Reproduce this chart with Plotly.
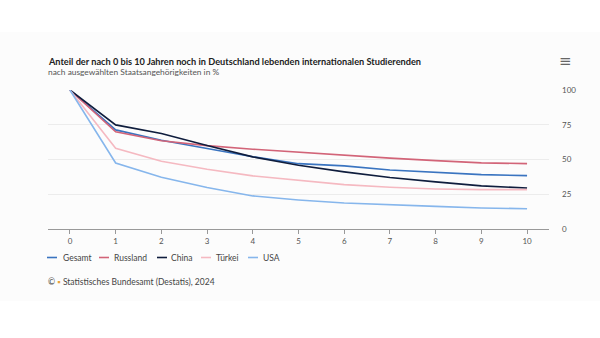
import plotly.graph_objects as go

jahre = list(range(0, 11))
gesamt = [100, 71.3, 63.9, 58.1, 52.0, 47.0, 45.4, 42.5, 40.6, 39.1, 38.4]
russland = [100, 69.9, 63.5, 60.0, 57.4, 55.2, 53.1, 51.0, 49.2, 47.6, 47.0]
china = [100, 74.9, 68.7, 60.0, 51.9, 45.9, 41.1, 37.0, 33.9, 31.0, 29.5]
tuerkei = [100, 58.1, 48.8, 43.0, 38.2, 34.8, 31.9, 30.0, 28.8, 28.3, 28.3]
usa = [100, 47.5, 37.2, 29.8, 23.8, 20.9, 18.7, 17.3, 16.3, 15.1, 14.6]

y_ticks = [0, 25, 50, 75, 100]

serien = [
    ("Gesamt", gesamt, "#3a74c0"),
    ("Russland", russland, "#d26478"),
    ("China", china, "#0f1d3d"),
    ("Türkei", tuerkei, "#f5b9c1"),
    ("USA", usa, "#86b6ec"),
]

FONT = "Lato"
W, H = 600, 338
L, R, T, B = 48, 51, 90, 109
PW, PH = W - L - R, H - T - B


def px_x(px):
    return (px - L) / PW


def px_y(py):
    return (H - B - py) / PH


fig = go.Figure()
for name, werte, farbe in serien:
    fig.add_trace(go.Scatter(
        x=jahre, y=werte, name=name, mode="lines",
        line=dict(color=farbe, width=1.6),
    ))

fig.update_layout(
    width=W, height=H,
    margin=dict(l=L, r=R, t=T, b=B),
    paper_bgcolor="white",
    plot_bgcolor="rgba(0,0,0,0)",
    font=dict(family=FONT, size=9, color="#555555"),
    showlegend=False,
    xaxis=dict(
        range=[-0.48, 10.48], tickvals=jahre, showgrid=False,
        showline=True, linecolor="#999999", linewidth=1,
        ticks="outside", ticklen=4, tickcolor="#999999",
        tickfont=dict(size=8, color="#555555"), zeroline=False,
    ),
    yaxis=dict(
        range=[0, 100], tickvals=y_ticks, side="right",
        showgrid=True, gridcolor="#ececec", gridwidth=1,
        zeroline=False, showline=False, ticks="",
        tickfont=dict(size=8, color="#555555"), ticklabelstandoff=12,
    ),
)

# leicht abgesetzter Hintergrundstreifen
fig.add_shape(type="rect", xref="paper", yref="paper", x0=-1, x1=2,
              y0=px_y(301), y1=px_y(32),
              fillcolor="#fcfcfc", line=dict(width=0), layer="below")

fig.add_annotation(
    text="<b>Anteil der nach 0 bis 10 Jahren noch in Deutschland lebenden internationalen Studierenden</b>",
    xref="paper", yref="paper", x=px_x(46), y=px_y(61),
    xanchor="left", yanchor="middle", showarrow=False,
    font=dict(family=FONT, size=9.2, color="#222222"),
)
fig.add_annotation(
    text="nach ausgewählten Staatsangehörigkeiten in %",
    xref="paper", yref="paper", x=px_x(46), y=px_y(72.5),
    xanchor="left", yanchor="middle", showarrow=False,
    font=dict(family=FONT, size=8.4, color="#555555"),
)

# Legende
legende_x = [(47, 61), (99, 112), (157, 169), (201, 214), (248, 261)]
for (name, _, farbe), (lx, tx) in zip(serien, legende_x):
    fig.add_shape(type="line", xref="paper", yref="paper",
                  x0=px_x(lx), x1=px_x(lx + 10), y0=px_y(257.5), y1=px_y(257.5),
                  line=dict(color=farbe, width=1.6))
    fig.add_annotation(
        text=name, xref="paper", yref="paper", x=px_x(tx), y=px_y(257.5),
        xanchor="left", yanchor="middle", showarrow=False,
        font=dict(family=FONT, size=8.5, color="#444444"),
    )

fig.add_annotation(
    text="© <span style='color:#e8a33a'>▪</span> Statistisches Bundesamt (Destatis), 2024",
    xref="paper", yref="paper", x=px_x(46), y=px_y(282),
    xanchor="left", yanchor="middle", showarrow=False,
    font=dict(family=FONT, size=8.5, color="#444444"),
)
fig.add_annotation(
    text="≡", xref="paper", yref="paper", x=px_x(565), y=px_y(61),
    xanchor="center", yanchor="middle", showarrow=False,
    font=dict(family="DejaVu Sans", size=15, color="#666666"),
)

fig.write_html("out.html")
